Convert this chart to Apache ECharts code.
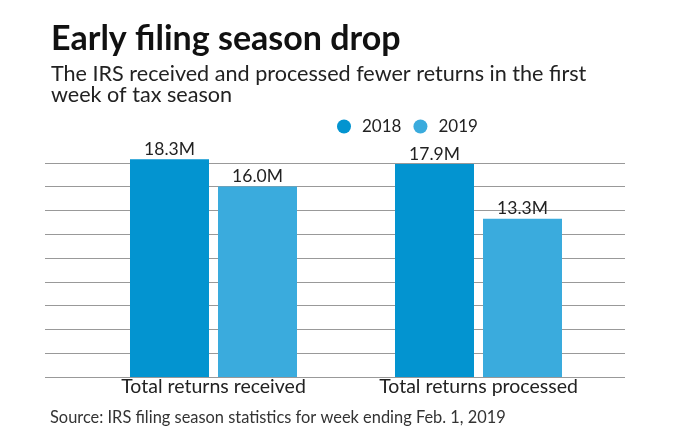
<!DOCTYPE html>
<html>
<head>
<meta charset="utf-8">
<script src="https://cdn.jsdelivr.net/npm/echarts@6/dist/echarts.min.js"></script>
<style>
html,body{margin:0;padding:0;background:#fff;}
#chart{width:680px;height:443px;}
</style>
</head>
<body>
<div id="chart"></div>
<script>
const categories = ['Total returns received', 'Total returns processed'];
const seriesNames = ['2018', '2019'];
const values2018 = [18.3, 17.9];
const values2019 = [16.0, 13.3];
const colors = ['#0394d0', '#3aabdd'];

const FONT = 'Lato, "Noto Sans", sans-serif';
const chart = echarts.init(document.getElementById('chart'), null, {renderer: 'canvas'});

const yCommon = {min: 0, max: 18, interval: 2, axisLabel: {show: false}, axisTick: {show: false}, axisLine: {show: false}};
const labelStyle = {show: true, position: 'top', distance: 1, formatter: p => p.value.toFixed(1) + 'M',
                    fontFamily: FONT, fontSize: 17.5, color: '#222'};

chart.setOption({
  backgroundColor: '#ffffff',
  animation: false,
  textStyle: {fontFamily: FONT},
  title: [
    {text: 'Early filing season drop', left: 46, top: 17,
     textStyle: {fontFamily: FONT, fontSize: 34, fontWeight: 'bold', color: '#111', lineHeight: 34}},
    {text: 'The IRS received and processed fewer returns in the first\nweek of tax season', left: 46, top: 58,
     textStyle: {fontFamily: FONT, fontSize: 21.6, fontWeight: 'normal', color: '#222', lineHeight: 21.5}},
    {text: 'Source: IRS filing season statistics for week ending Feb. 1, 2019', left: 45, top: 404.5,
     textStyle: {fontFamily: FONT, fontSize: 16.4, fontWeight: 'normal', color: '#333', lineHeight: 16.4}}
  ],
  legend: {
    data: seriesNames, left: 332, top: 113, icon: 'circle', itemWidth: 26, itemHeight: 14, itemGap: 12,
    textStyle: {fontFamily: FONT, fontSize: 17, color: '#222'}
  },
  grid: [
    {left: 45, right: 55, top: 162.8, bottom: 66},
    {left: 81, right: 69, top: 162.8, bottom: 66}
  ],
  xAxis: [
    {type: 'category', gridIndex: 0, data: categories, show: false},
    {type: 'category', gridIndex: 1, data: categories,
     axisLine: {show: false}, axisTick: {show: false},
     axisLabel: {fontFamily: FONT, fontSize: 19.5, color: '#222', margin: 0}}
  ],
  yAxis: [
    Object.assign({type: 'value', gridIndex: 0, splitLine: {show: true, lineStyle: {color: '#999', width: 1}}}, yCommon),
    Object.assign({type: 'value', gridIndex: 1, splitLine: {show: false}}, yCommon)
  ],
  series: [
    {name: seriesNames[0], type: 'bar', xAxisIndex: 1, yAxisIndex: 1, data: values2018, clip: false,
     barWidth: 79, barGap: '11.4%', itemStyle: {color: colors[0]}, label: labelStyle},
    {name: seriesNames[1], type: 'bar', xAxisIndex: 1, yAxisIndex: 1, data: values2019, clip: false,
     barWidth: 79, itemStyle: {color: colors[1]}, label: labelStyle}
  ]
});
</script>
</body>
</html>
